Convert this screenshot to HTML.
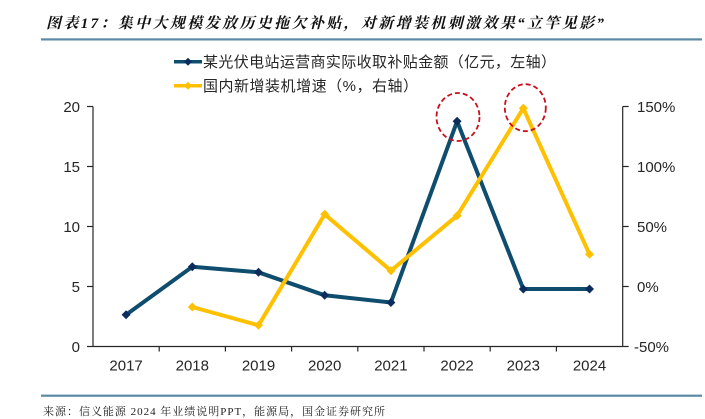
<!DOCTYPE html>
<html>
<head>
<meta charset="utf-8">
<style>
  html,body{margin:0;padding:0;background:#fff;}
  svg{display:block;}
</style>
</head>
<body>
<svg width="705" height="419" viewBox="0 0 705 419" xmlns="http://www.w3.org/2000/svg">
  <rect width="705" height="419" fill="#fff"/>
  <!-- Title -->
  <text x="46" y="28" font-family="'Liberation Serif','Noto Serif CJK SC',serif" font-size="15" font-style="italic" font-weight="bold" fill="#111" textLength="558" lengthAdjust="spacing">图表17：集中大规模发放历史拖欠补贴，对新增装机刺激效果“立竿见影”</text>
  <rect x="41" y="38.3" width="661" height="2.2" fill="#5a8aa6"/>

  <!-- Legend -->
  <line x1="174" y1="61.7" x2="202" y2="61.7" stroke="#0f4d6e" stroke-width="3.5"/>
  <polygon points="188,57.7 192,61.7 188,65.7 184,61.7" fill="#0c2c5e"/>
  <text x="203" y="67" font-family="'Liberation Sans','Noto Sans CJK SC',sans-serif" font-size="15" fill="#262626" textLength="353" lengthAdjust="spacing">某光伏电站运营商实际收取补贴金额（亿元，左轴）</text>
  <line x1="174" y1="85.7" x2="202" y2="85.7" stroke="#ffc000" stroke-width="3.5"/>
  <polygon points="188,81.7 192,85.7 188,89.7 184,85.7" fill="#ffc000"/>
  <text x="203" y="91" font-family="'Liberation Sans','Noto Sans CJK SC',sans-serif" font-size="15" fill="#262626" textLength="215" lengthAdjust="spacing">国内新增装机增速（%，右轴）</text>

  <!-- Axes -->
  <g stroke="#262626" stroke-width="1.2" fill="none">
    <line x1="93" y1="106.5" x2="93" y2="346.5"/>
    <line x1="622.7" y1="106.5" x2="622.7" y2="346.5"/>
    <line x1="93" y1="346.5" x2="622.7" y2="346.5"/>
    <!-- left ticks -->
    <line x1="87" y1="106.5" x2="93" y2="106.5"/>
    <line x1="87" y1="166.5" x2="93" y2="166.5"/>
    <line x1="87" y1="226.5" x2="93" y2="226.5"/>
    <line x1="87" y1="286.5" x2="93" y2="286.5"/>
    <line x1="87" y1="346.5" x2="93" y2="346.5"/>
    <!-- right ticks -->
    <line x1="622.7" y1="106.5" x2="628.7" y2="106.5"/>
    <line x1="622.7" y1="166.5" x2="628.7" y2="166.5"/>
    <line x1="622.7" y1="226.5" x2="628.7" y2="226.5"/>
    <line x1="622.7" y1="286.5" x2="628.7" y2="286.5"/>
    <line x1="622.7" y1="346.5" x2="628.7" y2="346.5"/>
    <!-- bottom ticks -->
    <line x1="159.2" y1="346.5" x2="159.2" y2="351.5"/>
    <line x1="225.4" y1="346.5" x2="225.4" y2="351.5"/>
    <line x1="291.6" y1="346.5" x2="291.6" y2="351.5"/>
    <line x1="357.8" y1="346.5" x2="357.8" y2="351.5"/>
    <line x1="424" y1="346.5" x2="424" y2="351.5"/>
    <line x1="490.2" y1="346.5" x2="490.2" y2="351.5"/>
    <line x1="556.4" y1="346.5" x2="556.4" y2="351.5"/>
  </g>

  <!-- Left labels -->
  <g font-family="'Liberation Sans',sans-serif" font-size="15" fill="#262626" text-anchor="end">
    <text x="80" y="111.8">20</text>
    <text x="80" y="171.8">15</text>
    <text x="80" y="231.8">10</text>
    <text x="80" y="291.8">5</text>
    <text x="80" y="351.8">0</text>
  </g>
  <!-- Right labels -->
  <g font-family="'Liberation Sans',sans-serif" font-size="15" fill="#262626" text-anchor="start">
    <text x="637" y="111.8">150%</text>
    <text x="637" y="171.8">100%</text>
    <text x="637" y="231.8">50%</text>
    <text x="637" y="291.8">0%</text>
    <text x="634" y="351.8">-50%</text>
  </g>
  <!-- Year labels -->
  <g font-family="'Liberation Sans',sans-serif" font-size="15" fill="#262626" text-anchor="middle">
    <text x="126.1" y="370.5">2017</text>
    <text x="192.3" y="370.5">2018</text>
    <text x="258.5" y="370.5">2019</text>
    <text x="324.7" y="370.5">2020</text>
    <text x="390.9" y="370.5">2021</text>
    <text x="457.1" y="370.5">2022</text>
    <text x="523.3" y="370.5">2023</text>
    <text x="589.5" y="370.5">2024</text>
  </g>

  <!-- Blue series -->
  <polyline points="126.1,314.7 192.3,266.7 258.5,272.3 324.7,295.3 390.9,302.5 457.1,121.3 523.3,289 589.5,289" fill="none" stroke="#0f4d6e" stroke-width="4" stroke-linejoin="round"/>
  <g fill="#0c2c5e">
    <polygon points="126.1,310.2 130.6,314.7 126.1,319.2 121.6,314.7"/>
    <polygon points="192.3,262.2 196.8,266.7 192.3,271.2 187.8,266.7"/>
    <polygon points="258.5,267.8 263,272.3 258.5,276.8 254,272.3"/>
    <polygon points="324.7,290.8 329.2,295.3 324.7,299.8 320.2,295.3"/>
    <polygon points="390.9,298 395.4,302.5 390.9,307 386.4,302.5"/>
    <polygon points="457.1,116.8 461.6,121.3 457.1,125.8 452.6,121.3"/>
    <polygon points="523.3,284.5 527.8,289 523.3,293.5 518.8,289"/>
    <polygon points="589.5,284.5 594,289 589.5,293.5 585,289"/>
  </g>

  <!-- Yellow series -->
  <polyline points="192.3,307 258.5,325.3 324.7,214.3 390.9,270.7 457.1,215.7 523.3,108.3 589.5,254.3" fill="none" stroke="#ffc000" stroke-width="4" stroke-linejoin="round"/>
  <g fill="#ffc000">
    <polygon points="192.3,302.5 196.8,307 192.3,311.5 187.8,307"/>
    <polygon points="258.5,320.8 263,325.3 258.5,329.8 254,325.3"/>
    <polygon points="324.7,209.8 329.2,214.3 324.7,218.8 320.2,214.3"/>
    <polygon points="390.9,266.2 395.4,270.7 390.9,275.2 386.4,270.7"/>
    <polygon points="457.1,211.2 461.6,215.7 457.1,220.2 452.6,215.7"/>
    <polygon points="523.3,103.8 527.8,108.3 523.3,112.8 518.8,108.3"/>
    <polygon points="589.5,249.8 594,254.3 589.5,258.8 585,254.3"/>
  </g>

  <!-- Red dashed circles -->
  <ellipse cx="458" cy="117" rx="21.5" ry="24" fill="none" stroke="#c8101a" stroke-width="1.8" stroke-dasharray="5 3"/>
  <ellipse cx="525.3" cy="107.7" rx="20.5" ry="23.5" fill="none" stroke="#c8101a" stroke-width="1.8" stroke-dasharray="5 3"/>

  <!-- Bottom rule and source -->
  <rect x="41" y="394.6" width="661" height="2.2" fill="#5a8aa6"/>
  <text x="43" y="415" font-family="'Liberation Serif','Noto Serif CJK SC',serif" font-size="11" fill="#222" textLength="342" lengthAdjust="spacing">来源：信义能源 2024 年业绩说明PPT，能源局，国金证券研究所</text>
</svg>
</body>
</html>
